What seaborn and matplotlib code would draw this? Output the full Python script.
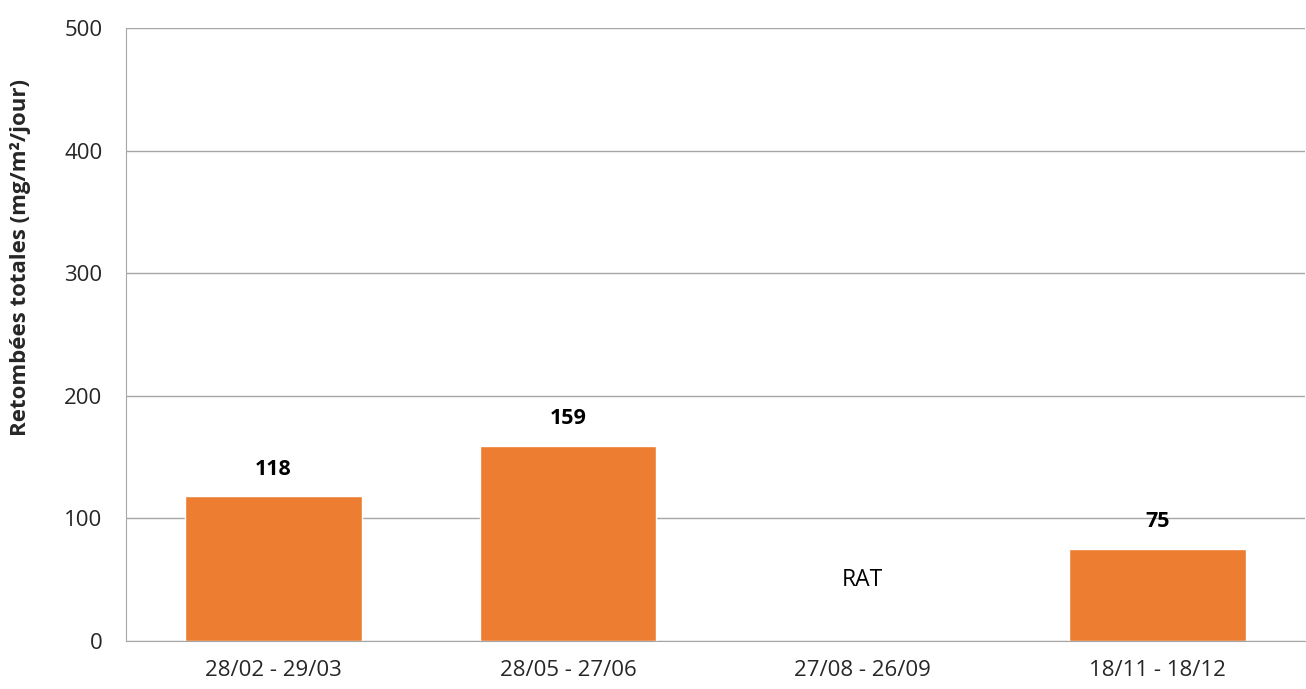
import pandas as pd
import matplotlib.pyplot as plt
import seaborn as sns
import numpy as np
from matplotlib.ticker import FixedLocator

# Données
periodes = ["28/02 - 29/03", "28/05 - 27/06", "27/08 - 26/09", "18/11 - 18/12"]
retombees = [118, 159, np.nan, 75]
etiquettes = ["118", "159", "RAT", "75"]

df = pd.DataFrame({"periode": periodes, "valeur": retombees})

sns.set_style("white")
plt.rcParams["font.family"] = ["Open Sans", "DejaVu Sans"]

fig = plt.figure(figsize=(13.06, 6.89), dpi=100)
ax = fig.add_axes([0.0965, 0.0697, 0.9025, 0.8897])

sns.barplot(
    data=df,
    x="periode",
    y="valeur",
    order=periodes,
    color="#ED7D31",
    width=0.6,
    saturation=1,
    ax=ax
)

ax.set_ylim(0, 500)
ax.set_xlim(-0.5, len(periodes) - 0.5)
ax.set_yticks(np.arange(0, 501, 100))
ax.grid(True, axis="y", color="#a6a6a6", linewidth=1)
ax.set_axisbelow(True)

for side in ["top", "right"]:
    ax.spines[side].set_visible(False)
ax.spines["left"].set_color("#a6a6a6")
ax.spines["bottom"].set_color("#a6a6a6")

ax.tick_params(axis="y", length=7, color="#a6a6a6", labelsize=16, labelcolor="#262626", pad=10)
ax.tick_params(axis="x", which="major", length=0, labelsize=16, labelcolor="#262626", pad=14)
ax.xaxis.set_minor_locator(FixedLocator(np.arange(-0.5, len(periodes), 1)))
ax.tick_params(axis="x", which="minor", length=7, color="#a6a6a6")

ax.set_xlabel("")
ax.set_ylabel("Retombées totales (mg/m²/jour)", fontsize=16, fontweight="bold")
ax.yaxis.set_label_coords(-0.081, 0.626)

# Étiquettes des valeurs
for i, (val, txt) in enumerate(zip(retombees, etiquettes)):
    if np.isnan(val):
        ax.text(i, 50, txt, ha="center", va="center", fontsize=16.5, color="black")
    else:
        ax.annotate(
            txt,
            xy=(i, val),
            xytext=(0, 12),
            textcoords="offset points",
            ha="center",
            va="bottom",
            fontsize=15.5,
            fontweight="bold",
            color="black"
        )

fig.savefig("out.png", dpi=100)
